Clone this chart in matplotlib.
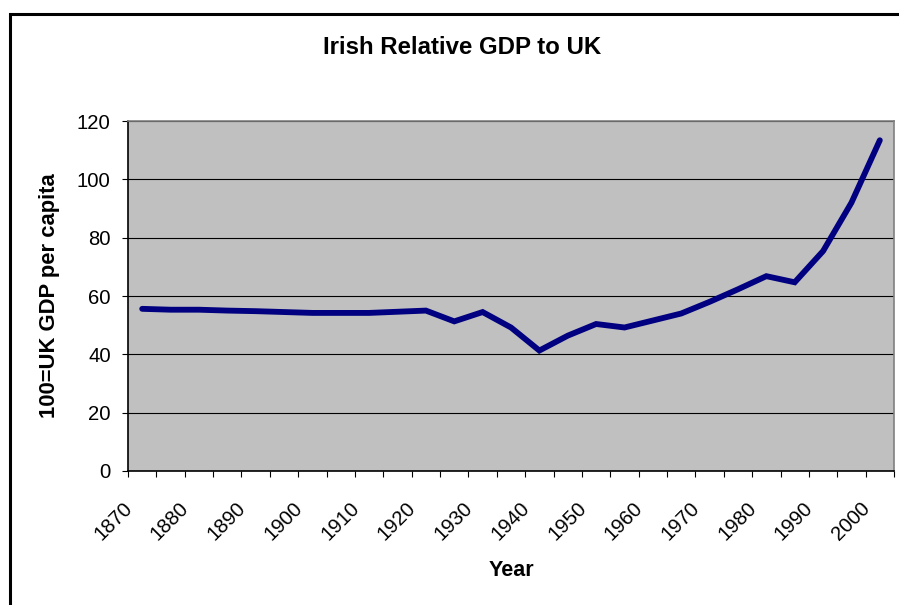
import matplotlib
matplotlib.use("Agg")
import matplotlib.pyplot as plt
import matplotlib.transforms as mtransforms
from matplotlib.patches import Rectangle
import numpy as np

plt.rcParams['font.family'] = ['Liberation Sans', 'DejaVu Sans']

# data (one point every 5 years)
years = [1870, 1875, 1880, 1885, 1890, 1895, 1900, 1905, 1910, 1915,
         1920, 1925, 1930, 1935, 1940, 1945, 1950, 1955, 1960, 1965,
         1970, 1975, 1980, 1985, 1990, 1995, 2000]
values = [55.6, 55.3, 55.3, 55.0, 54.8, 54.5, 54.2, 54.2, 54.2, 54.6,
          55.0, 51.3, 54.5, 49.2, 41.3, 46.4, 50.4, 49.2, 51.6, 54.0,
          58.0, 62.3, 66.8, 64.7, 75.4, 92.0, 113.4]
yticks = [0, 20, 40, 60, 80, 100, 120]

W, H = 899, 605
fig = plt.figure(figsize=(W / 100, H / 100), dpi=100)

# outer chart border (Excel style)
fig.patches.append(Rectangle((10 / W, -0.1), 1.2, (H - 14) / H + 0.1,
                             transform=fig.transFigure, fill=False,
                             edgecolor='black', linewidth=2.2))

ax = fig.add_axes([128 / W, (H - 471) / H, 766 / W, 350 / H])
ax.set_facecolor('#C0C0C0')

pos = np.arange(len(years))
ax.plot(pos, values, color='#000080', linewidth=4.2,
        solid_capstyle='round', solid_joinstyle='miter', zorder=3)

ax.set_xlim(-0.5, len(years) - 0.5)
ax.set_ylim(0, 120)
ax.set_yticks(yticks)
ax.set_yticklabels([str(v) for v in yticks], fontsize=14.6)
ax.yaxis.grid(True, color='black', linewidth=0.8)
ax.set_axisbelow(True)

# ticks at category borders, labels every second category
ax.set_xticks(np.arange(-0.5, len(years), 1.0))
ax.set_xticklabels([])
ax.tick_params(axis='both', direction='out', length=4.5, width=0.8, color='black')
ax.tick_params(axis='y', pad=8)

off = mtransforms.ScaledTranslation(-13 / 100, -34 / 100, fig.dpi_scale_trans)
for i, yr in enumerate(years):
    if yr % 10 == 0:
        ax.text(i, 0, str(yr), transform=ax.get_xaxis_transform() + off,
                rotation=45, rotation_mode='anchor', ha='right', va='center',
                fontsize=14.6)

for s in ['top', 'right']:
    ax.spines[s].set_color('#808080')
for s in ['left', 'bottom']:
    ax.spines[s].set_color('black')
for s in ax.spines.values():
    s.set_linewidth(1.2)

fig.text(462 / W, 1 - 48 / H, 'Irish Relative GDP to UK', ha='center', va='center',
         fontsize=17.3, fontweight='bold')
fig.text(50 / W, 1 - 296 / H, '100=UK GDP per capita', ha='center', va='center',
         rotation=90, fontsize=15.8, fontweight='bold')
fig.text(511 / W, 1 - 570 / H, 'Year', ha='center', va='center',
         fontsize=15.5, fontweight='bold')

fig.savefig('out.png', dpi=100)
